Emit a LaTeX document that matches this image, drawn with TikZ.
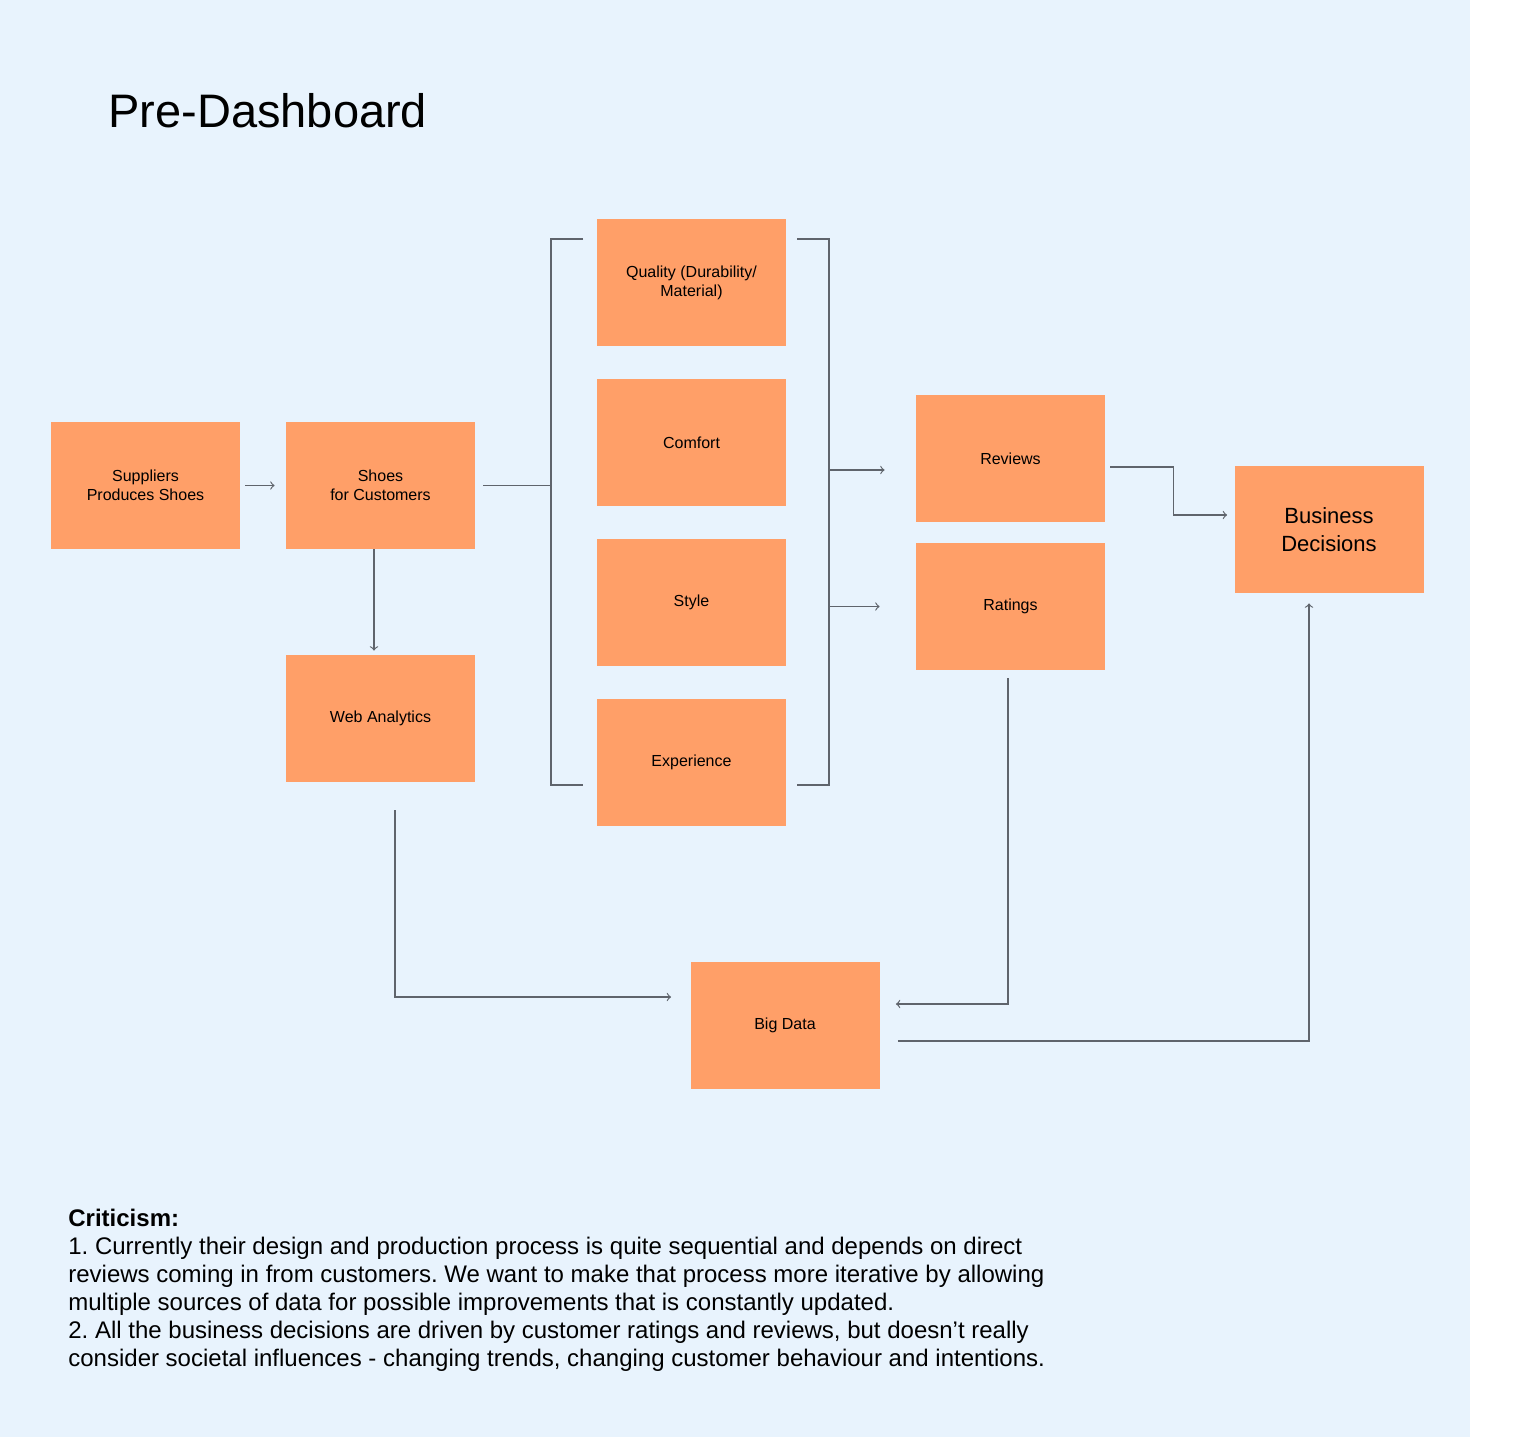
\documentclass[tikz,border=0pt]{standalone}
\usepackage{fontspec}
\setmainfont{Liberation Sans}
\frenchspacing
\definecolor{fond}{RGB}{232,243,253}
\definecolor{carte}{RGB}{255,159,104}
\definecolor{trait}{RGB}{95,100,108}

\begin{document}
\begin{tikzpicture}[x=0.5pt,y=-0.5pt]
\tikzset{boite/.style={fill=carte, minimum width=94.5pt, minimum height=63.5pt, inner sep=0pt, align=center, font=\fontsize{8}{9.5}\selectfont}}
\tikzset{lien/.style={draw=trait, line width=0.6pt}}
\useasboundingbox (0,0) rectangle (1528,1450);
\fill[fond] (0,0) rectangle (1470,1437);
\node[anchor=base west, inner sep=0pt, font=\fontsize{23.5}{28}\selectfont] (Titre) at (108,128) {Pre-Dashboard};
\node[boite] (Supp) at (145.5,485.5) {Suppliers\\Produces Shoes};
\node[boite] (Shoe) at (380.5,485.5) {Shoes\\for Customers};
\node[boite] (Web) at (380.5,718.5) {Web Analytics};
\node[boite] (Qual) at (691.5,282.5) {Quality (Durability/\\Material)};
\node[boite] (Comf) at (691.5,442.5) {Comfort};
\node[boite] (Styl) at (691.5,602.5) {Style};
\node[boite] (Expe) at (691.5,762.5) {Experience};
\node[boite] (Revi) at (1010.5,458.5) {Reviews};
\node[boite] (Rati) at (1010.5,606.5) {Ratings};
\node[boite, font=\fontsize{11}{14}\selectfont] (Busi) at (1329,529.5) {Business\\Decisions};
\node[boite] (BigD) at (785,1025.5) {Big Data};
\coordinate (GH) at (583,239);
\coordinate (GB) at (583,785);
\coordinate (G) at (551,485.5);
\coordinate (DH) at (797,239);
\coordinate (DB) at (797,785);
\coordinate (D) at (829,512);
\coordinate (RevE) at ([shift={(0,11.5)}]Revi.west);
\draw[lien,->] ([shift={(5,0)}]Supp.east) -- ([shift={(-11,0)}]Shoe.west);
\draw[lien,->] ([shift={(-6.5,0)}]Shoe.south) -- ([shift={(-6.5,-4)}]Web.north);
\draw[lien] ([shift={(8,0)}]Shoe.east) -- (G);
\draw[lien] (GH) -| (G) |- (GB);
\draw[lien] (DH) -| (D) |- (DB);
\draw[lien,->,shorten >=15.5pt] (D |- RevE) -- (RevE);
\draw[lien,->,shorten >=18pt] (D |- Rati.west) -- (Rati.west);
\draw[lien,->] ([shift={(5,8.5)}]Revi.east) -- ++(63,0) |- ([shift={(-7,-14.5)}]Busi.west);
\draw[lien,->] ([shift={(-2.5,8)}]Rati.south) |- ([shift={(16,-21.5)}]BigD.east);
\draw[lien,->] ([shift={(14.5,28)}]Web.south) |- ([shift={(-19,-28.5)}]BigD.west);
\draw[lien,->] ([shift={(18,15.5)}]BigD.east) -| ([shift={(-20,10)}]Busi.south);
\node[anchor=north west, inner sep=0pt, align=left, font=\fontsize{12}{14}\selectfont] (Crit) at (68,1209) {\textbf{Criticism:}\\
1. Currently their design and production process is quite sequential and depends on direct\\
reviews coming in from customers. We want to make that process more iterative by allowing\\
multiple sources of data for possible improvements that is constantly updated.\\
2. All the business decisions are driven by customer ratings and reviews, but doesn’t really\\
consider societal influences - changing trends, changing customer behaviour and intentions.};
\end{tikzpicture}
\end{document}
